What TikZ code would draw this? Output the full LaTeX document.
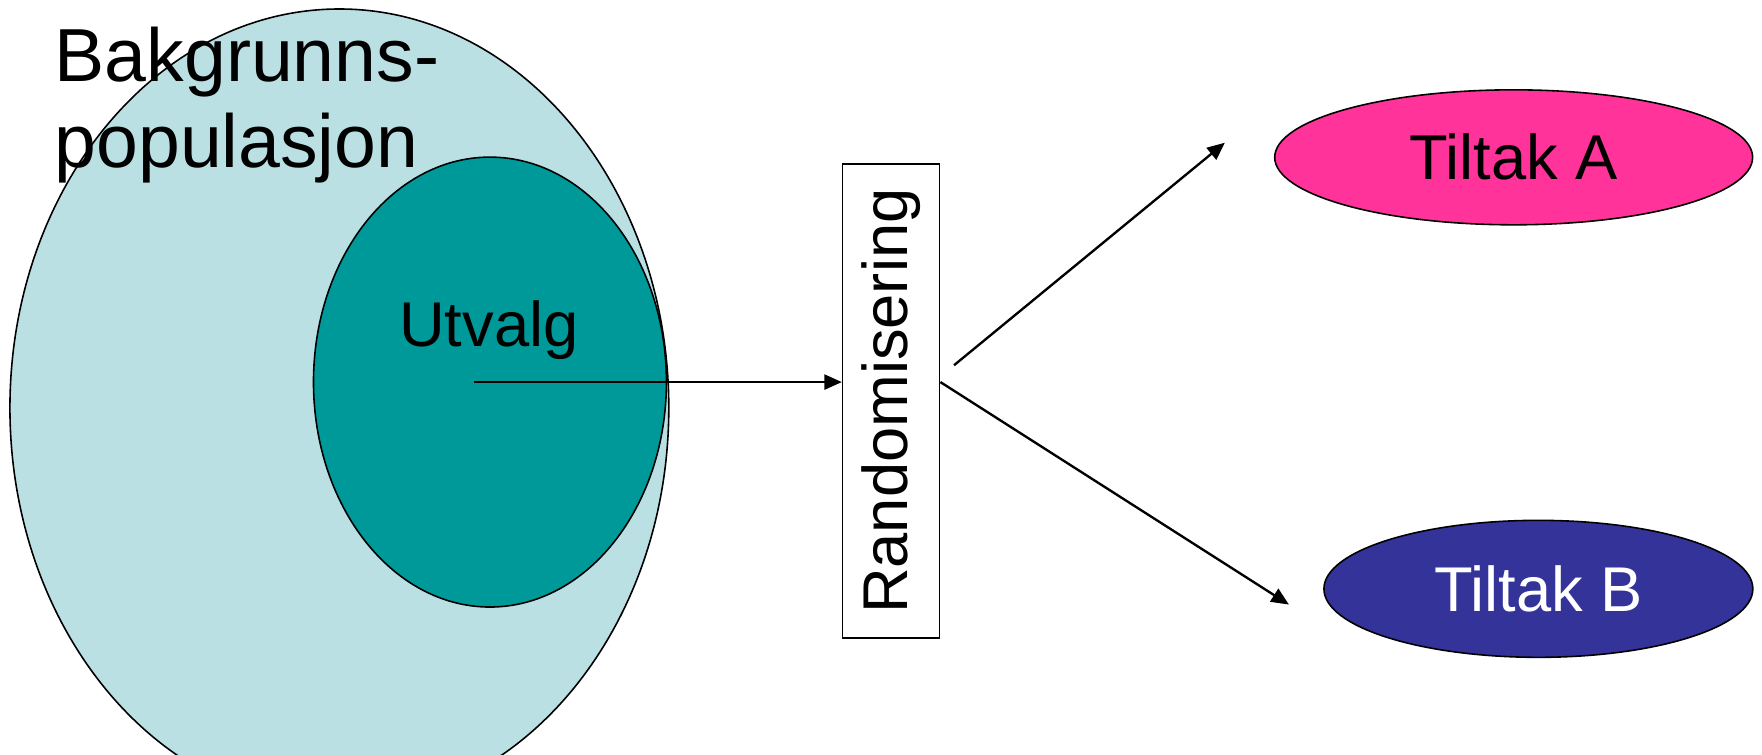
\documentclass[tikz,border=0pt]{standalone}
\usepackage{fontspec}
\setmainfont{Liberation Sans}
\usetikzlibrary{shapes.geometric,arrows.meta}
\definecolor{bakgrunnfarge}{HTML}{BBE0E3}
\definecolor{utvalgfarge}{HTML}{009999}
\definecolor{tiltakafarge}{HTML}{FF3399}
\definecolor{tiltakbfarge}{HTML}{333399}
\tikzset{
  mengde/.style={ellipse,draw,line width=0.45pt,inner sep=0pt},
  tekst/.style={font=\fontsize{18}{21}\selectfont},
  pil/.style={-{Triangle[length=5pt,width=4.3pt]},line width=0.67pt},
}
\begin{document}
\begin{tikzpicture}[x=0.1124mm,y=-0.1124mm]
\clip (0,0) rectangle (1568,671);
% mengdene
\node(bakgrunn) at (302,363) [mengde,fill=bakgrunnfarge,minimum width=6.59cm,minimum height=7.98cm] {};
\node(utvalg) at (436,340) [mengde,fill=utvalgfarge,minimum width=3.53cm,minimum height=4.5cm] {};
\node(bakgrunntekst) at (48,23) [anchor=north west,inner sep=0pt,align=left,font=\fontsize{21.4}{24.7}\selectfont] {Bakgrunns-\\populasjon};
\node(utvalgtekst) at (435,308) [anchor=base,tekst] {Utvalg};
% randomisering
\node(rand) at (793,357) [draw,line width=0.45pt,rotate=90,minimum width=4.74cm,minimum height=0.97cm,inner sep=0pt,tekst] {Randomisering};
% tiltakene
\node(tiltaka) at (1347,140) [mengde,fill=tiltakafarge,minimum width=4.78cm,minimum height=1.35cm,tekst] {Tiltak A};
\node(tiltakb) at (1369,524) [mengde,fill=tiltakbfarge,text=white,minimum width=4.29cm,minimum height=1.37cm,tekst] {Tiltak B};
\coordinate(start) at (422,340);
\coordinate(ut) at (849,325);
\coordinate(tila) at (1090,127);
\coordinate(tilb) at (1147,538);
\draw[pil] (start) -- (rand.north |- start);
\draw[pil] (ut) -- (tila);
\draw[pil] (rand.south |- start) -- (tilb);
\end{tikzpicture}
\end{document}
